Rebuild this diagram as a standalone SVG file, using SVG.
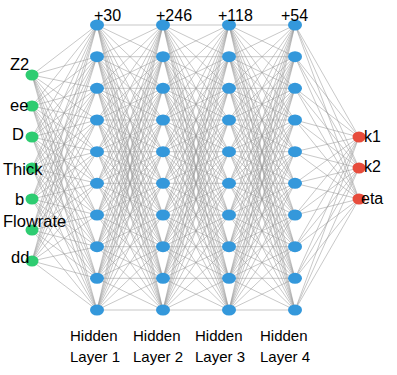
<svg xmlns="http://www.w3.org/2000/svg" xmlns:xlink="http://www.w3.org/1999/xlink" width="397" height="375" viewBox="0 0 397 375">
<style>
.edge{fill:none;stroke:#9a9a9a;stroke-width:0.65;stroke-opacity:0.85}
.in{fill:#2ecc71}
.hid{fill:#3498db}
.out{fill:#e74c3c}
text{font-family:"Liberation Sans",Arial,sans-serif;fill:#000}
.lbl{font-size:16.5px}
.cnt{font-size:16px}
.olbl{font-size:16px}
.bot{font-size:15px}
</style>
<defs>
<path id="hh" d="M0 25L66 25M0 25L66 56.7M0 25L66 88.3M0 25L66 120M0 25L66 151.7M0 25L66 183.3M0 25L66 215M0 25L66 246.7M0 25L66 278.3M0 25L66 310
M0 56.7L66 25M0 56.7L66 56.7M0 56.7L66 88.3M0 56.7L66 120M0 56.7L66 151.7M0 56.7L66 183.3M0 56.7L66 215M0 56.7L66 246.7M0 56.7L66 278.3M0 56.7L66 310
M0 88.3L66 25M0 88.3L66 56.7M0 88.3L66 88.3M0 88.3L66 120M0 88.3L66 151.7M0 88.3L66 183.3M0 88.3L66 215M0 88.3L66 246.7M0 88.3L66 278.3M0 88.3L66 310
M0 120L66 25M0 120L66 56.7M0 120L66 88.3M0 120L66 120M0 120L66 151.7M0 120L66 183.3M0 120L66 215M0 120L66 246.7M0 120L66 278.3M0 120L66 310
M0 151.7L66 25M0 151.7L66 56.7M0 151.7L66 88.3M0 151.7L66 120M0 151.7L66 151.7M0 151.7L66 183.3M0 151.7L66 215M0 151.7L66 246.7M0 151.7L66 278.3M0 151.7L66 310
M0 183.3L66 25M0 183.3L66 56.7M0 183.3L66 88.3M0 183.3L66 120M0 183.3L66 151.7M0 183.3L66 183.3M0 183.3L66 215M0 183.3L66 246.7M0 183.3L66 278.3M0 183.3L66 310
M0 215L66 25M0 215L66 56.7M0 215L66 88.3M0 215L66 120M0 215L66 151.7M0 215L66 183.3M0 215L66 215M0 215L66 246.7M0 215L66 278.3M0 215L66 310
M0 246.7L66 25M0 246.7L66 56.7M0 246.7L66 88.3M0 246.7L66 120M0 246.7L66 151.7M0 246.7L66 183.3M0 246.7L66 215M0 246.7L66 246.7M0 246.7L66 278.3M0 246.7L66 310
M0 278.3L66 25M0 278.3L66 56.7M0 278.3L66 88.3M0 278.3L66 120M0 278.3L66 151.7M0 278.3L66 183.3M0 278.3L66 215M0 278.3L66 246.7M0 278.3L66 278.3M0 278.3L66 310
M0 310L66 25M0 310L66 56.7M0 310L66 88.3M0 310L66 120M0 310L66 151.7M0 310L66 183.3M0 310L66 215M0 310L66 246.7M0 310L66 278.3M0 310L66 310"/>
</defs>
<g id="connectors">
<path class="edge" transform="translate(32,0)" d="M0 75L65 25M0 75L65 56.7M0 75L65 88.3M0 75L65 120M0 75L65 151.7M0 75L65 183.3M0 75L65 215M0 75L65 246.7M0 75L65 278.3M0 75L65 310
M0 106L65 25M0 106L65 56.7M0 106L65 88.3M0 106L65 120M0 106L65 151.7M0 106L65 183.3M0 106L65 215M0 106L65 246.7M0 106L65 278.3M0 106L65 310
M0 137L65 25M0 137L65 56.7M0 137L65 88.3M0 137L65 120M0 137L65 151.7M0 137L65 183.3M0 137L65 215M0 137L65 246.7M0 137L65 278.3M0 137L65 310
M0 168L65 25M0 168L65 56.7M0 168L65 88.3M0 168L65 120M0 168L65 151.7M0 168L65 183.3M0 168L65 215M0 168L65 246.7M0 168L65 278.3M0 168L65 310
M0 199L65 25M0 199L65 56.7M0 199L65 88.3M0 199L65 120M0 199L65 151.7M0 199L65 183.3M0 199L65 215M0 199L65 246.7M0 199L65 278.3M0 199L65 310
M0 230L65 25M0 230L65 56.7M0 230L65 88.3M0 230L65 120M0 230L65 151.7M0 230L65 183.3M0 230L65 215M0 230L65 246.7M0 230L65 278.3M0 230L65 310
M0 261L65 25M0 261L65 56.7M0 261L65 88.3M0 261L65 120M0 261L65 151.7M0 261L65 183.3M0 261L65 215M0 261L65 246.7M0 261L65 278.3M0 261L65 310"/>
<use xlink:href="#hh" href="#hh" class="edge" transform="translate(97,0)"/>
<use xlink:href="#hh" href="#hh" class="edge" transform="translate(163,0)"/>
<use xlink:href="#hh" href="#hh" class="edge" transform="translate(229,0)"/>
<path class="edge" transform="translate(295,0)" d="M0 25L64 137M0 25L64 168M0 25L64 199
M0 56.7L64 137M0 56.7L64 168M0 56.7L64 199
M0 88.3L64 137M0 88.3L64 168M0 88.3L64 199
M0 120L64 137M0 120L64 168M0 120L64 199
M0 151.7L64 137M0 151.7L64 168M0 151.7L64 199
M0 183.3L64 137M0 183.3L64 168M0 183.3L64 199
M0 215L64 137M0 215L64 168M0 215L64 199
M0 246.7L64 137M0 246.7L64 168M0 246.7L64 199
M0 278.3L64 137M0 278.3L64 168M0 278.3L64 199
M0 310L64 137M0 310L64 168M0 310L64 199"/>
</g>
<g id="input-layer">
<g id="in-Z2"><ellipse class="in" cx="32" cy="75" rx="6.5" ry="5.5"/><text class="lbl" x="10" y="70">Z2</text></g>
<g id="in-ee"><ellipse class="in" cx="32" cy="106" rx="6.5" ry="5.5"/><text class="lbl" x="10" y="111">ee</text></g>
<g id="in-D"><ellipse class="in" cx="32" cy="137" rx="6.5" ry="5.5"/><text class="lbl" x="12" y="140">D</text></g>
<g id="in-Thick"><ellipse class="in" cx="32" cy="168" rx="6.5" ry="5.5"/><text class="lbl" x="3" y="175">Thick</text></g>
<g id="in-b"><ellipse class="in" cx="32" cy="199" rx="6.5" ry="5.5"/><text class="lbl" x="15" y="205">b</text></g>
<g id="in-Flowrate"><ellipse class="in" cx="32" cy="230" rx="6.5" ry="5.5"/><text class="lbl" x="3" y="227">Flowrate</text></g>
<g id="in-dd"><ellipse class="in" cx="32" cy="261" rx="6.5" ry="5.5"/><text class="lbl" x="11" y="263">dd</text></g>
</g>
<g id="hidden-layer-1">
<g id="h1-1"><ellipse class="hid" cx="97" cy="25" rx="7" ry="5.5"/></g>
<g id="h1-2"><ellipse class="hid" cx="97" cy="56.7" rx="7" ry="5.5"/></g>
<g id="h1-3"><ellipse class="hid" cx="97" cy="88.3" rx="7" ry="5.5"/></g>
<g id="h1-4"><ellipse class="hid" cx="97" cy="120" rx="7" ry="5.5"/></g>
<g id="h1-5"><ellipse class="hid" cx="97" cy="151.7" rx="7" ry="5.5"/></g>
<g id="h1-6"><ellipse class="hid" cx="97" cy="183.3" rx="7" ry="5.5"/></g>
<g id="h1-7"><ellipse class="hid" cx="97" cy="215" rx="7" ry="5.5"/></g>
<g id="h1-8"><ellipse class="hid" cx="97" cy="246.7" rx="7" ry="5.5"/></g>
<g id="h1-9"><ellipse class="hid" cx="97" cy="278.3" rx="7" ry="5.5"/></g>
<g id="h1-10"><ellipse class="hid" cx="97" cy="310" rx="7" ry="5.5"/></g>
<text class="cnt" x="94" y="21">+30</text>
<text class="bot" x="70" y="341">Hidden</text>
<text class="bot" x="70" y="362">Layer 1</text>
</g>
<g id="hidden-layer-2">
<g id="h2-1"><ellipse class="hid" cx="163" cy="25" rx="7" ry="5.5"/></g>
<g id="h2-2"><ellipse class="hid" cx="163" cy="56.7" rx="7" ry="5.5"/></g>
<g id="h2-3"><ellipse class="hid" cx="163" cy="88.3" rx="7" ry="5.5"/></g>
<g id="h2-4"><ellipse class="hid" cx="163" cy="120" rx="7" ry="5.5"/></g>
<g id="h2-5"><ellipse class="hid" cx="163" cy="151.7" rx="7" ry="5.5"/></g>
<g id="h2-6"><ellipse class="hid" cx="163" cy="183.3" rx="7" ry="5.5"/></g>
<g id="h2-7"><ellipse class="hid" cx="163" cy="215" rx="7" ry="5.5"/></g>
<g id="h2-8"><ellipse class="hid" cx="163" cy="246.7" rx="7" ry="5.5"/></g>
<g id="h2-9"><ellipse class="hid" cx="163" cy="278.3" rx="7" ry="5.5"/></g>
<g id="h2-10"><ellipse class="hid" cx="163" cy="310" rx="7" ry="5.5"/></g>
<text class="cnt" x="156" y="21">+246</text>
<text class="bot" x="133" y="341">Hidden</text>
<text class="bot" x="133" y="362">Layer 2</text>
</g>
<g id="hidden-layer-3">
<g id="h3-1"><ellipse class="hid" cx="229" cy="25" rx="7" ry="5.5"/></g>
<g id="h3-2"><ellipse class="hid" cx="229" cy="56.7" rx="7" ry="5.5"/></g>
<g id="h3-3"><ellipse class="hid" cx="229" cy="88.3" rx="7" ry="5.5"/></g>
<g id="h3-4"><ellipse class="hid" cx="229" cy="120" rx="7" ry="5.5"/></g>
<g id="h3-5"><ellipse class="hid" cx="229" cy="151.7" rx="7" ry="5.5"/></g>
<g id="h3-6"><ellipse class="hid" cx="229" cy="183.3" rx="7" ry="5.5"/></g>
<g id="h3-7"><ellipse class="hid" cx="229" cy="215" rx="7" ry="5.5"/></g>
<g id="h3-8"><ellipse class="hid" cx="229" cy="246.7" rx="7" ry="5.5"/></g>
<g id="h3-9"><ellipse class="hid" cx="229" cy="278.3" rx="7" ry="5.5"/></g>
<g id="h3-10"><ellipse class="hid" cx="229" cy="310" rx="7" ry="5.5"/></g>
<text class="cnt" x="218" y="21">+118</text>
<text class="bot" x="195" y="341">Hidden</text>
<text class="bot" x="195" y="362">Layer 3</text>
</g>
<g id="hidden-layer-4">
<g id="h4-1"><ellipse class="hid" cx="295" cy="25" rx="7" ry="5.5"/></g>
<g id="h4-2"><ellipse class="hid" cx="295" cy="56.7" rx="7" ry="5.5"/></g>
<g id="h4-3"><ellipse class="hid" cx="295" cy="88.3" rx="7" ry="5.5"/></g>
<g id="h4-4"><ellipse class="hid" cx="295" cy="120" rx="7" ry="5.5"/></g>
<g id="h4-5"><ellipse class="hid" cx="295" cy="151.7" rx="7" ry="5.5"/></g>
<g id="h4-6"><ellipse class="hid" cx="295" cy="183.3" rx="7" ry="5.5"/></g>
<g id="h4-7"><ellipse class="hid" cx="295" cy="215" rx="7" ry="5.5"/></g>
<g id="h4-8"><ellipse class="hid" cx="295" cy="246.7" rx="7" ry="5.5"/></g>
<g id="h4-9"><ellipse class="hid" cx="295" cy="278.3" rx="7" ry="5.5"/></g>
<g id="h4-10"><ellipse class="hid" cx="295" cy="310" rx="7" ry="5.5"/></g>
<text class="cnt" x="281" y="21">+54</text>
<text class="bot" x="260" y="341">Hidden</text>
<text class="bot" x="260" y="362">Layer 4</text>
</g>
<g id="output-layer">
<g id="out-k1"><ellipse class="out" cx="359" cy="137" rx="6.5" ry="5.5"/><text class="olbl" x="364" y="142">k1</text></g>
<g id="out-k2"><ellipse class="out" cx="359" cy="168" rx="6.5" ry="5.5"/><text class="olbl" x="364" y="172">k2</text></g>
<g id="out-eta"><ellipse class="out" cx="359" cy="199" rx="6.5" ry="5.5"/><text class="olbl" x="361" y="204">eta</text></g>
</g>
</svg>
